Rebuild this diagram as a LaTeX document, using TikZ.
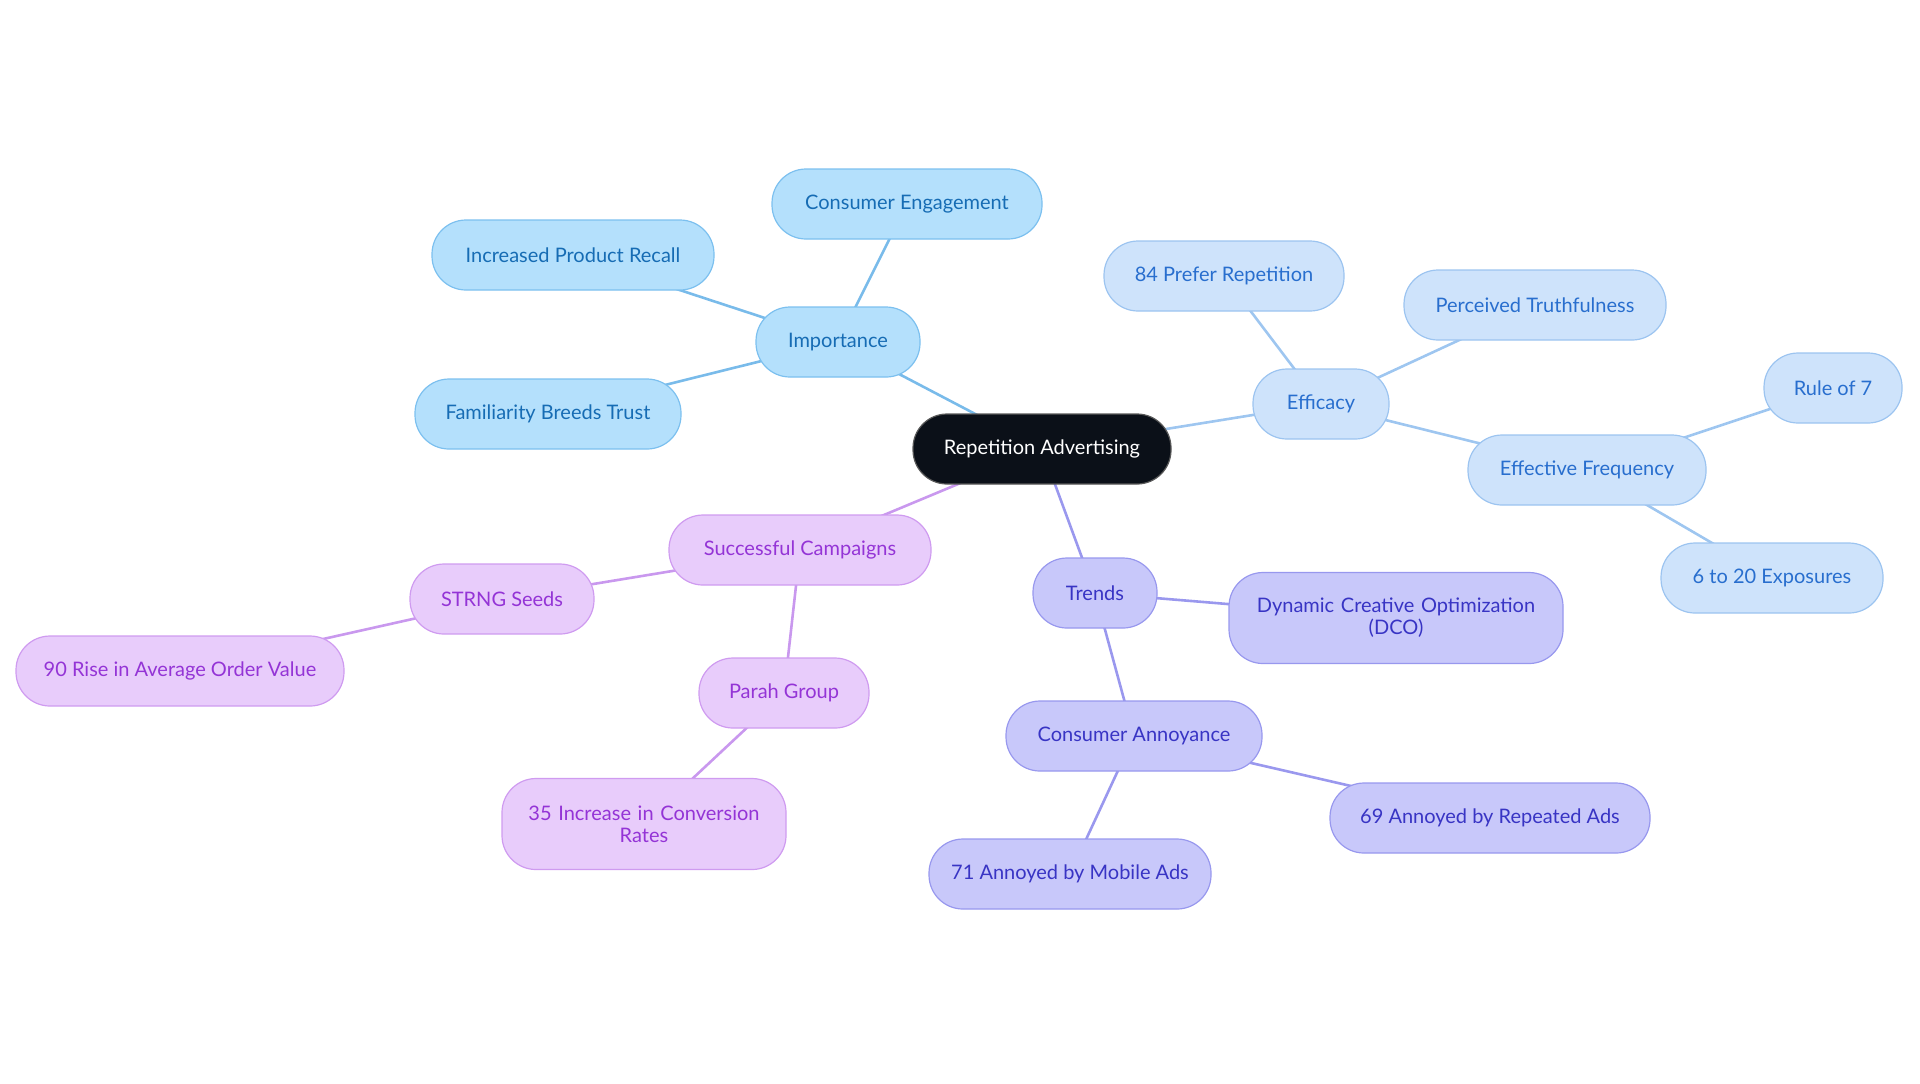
\documentclass[tikz,border=0pt]{standalone}
\usepackage{fontspec}
\setmainfont{Lato}
\usetikzlibrary{backgrounds}
\begin{document}
\begin{tikzpicture}[x=0.5pt,y=-0.5pt,
  base/.style={rounded corners=17pt, minimum height=35pt, line width=0.6pt, font=\fontsize{10}{11}\selectfont, inner sep=2pt, align=center},
  root/.style={base, draw=gray!70!black, text=white, fill={rgb,255:red,11;green,16;blue,24}},
  impn/.style={base, fill={rgb,255:red,180;green,224;blue,252}, draw={rgb,255:red,124;green,192;blue,239}, text={rgb,255:red,22;green,108;blue,180}},
  effn/.style={base, fill={rgb,255:red,206;green,227;blue,251}, draw={rgb,255:red,156;green,196;blue,240}, text={rgb,255:red,40;green,110;blue,206}},
  trdn/.style={base, fill={rgb,255:red,200;green,200;blue,250}, draw={rgb,255:red,152;green,152;blue,238}, text={rgb,255:red,56;green,52;blue,196}},
  sucn/.style={base, fill={rgb,255:red,232;green,204;blue,251}, draw={rgb,255:red,207;green,155;blue,240}, text={rgb,255:red,148;green,52;blue,214}},
  impl/.style={line width=1.3pt, draw={rgb,255:red,121;green,187;blue,234}},
  effl/.style={line width=1.3pt, draw={rgb,255:red,158;green,198;blue,240}},
  trdl/.style={line width=1.3pt, draw={rgb,255:red,154;green,152;blue,238}},
  sucl/.style={line width=1.3pt, draw={rgb,255:red,201;green,152;blue,238}}
]
\useasboundingbox (0,0) rectangle (1920,1083);
\node[root, minimum width=129pt] (root) at (1042,449) {Repetition Advertising};
% Importance
\node[impn, minimum width=82pt] (imp) at (838,342) {Importance};
\node[impn, minimum width=135pt] (ce) at (907,204) {Consumer Engagement};
\node[impn, minimum width=141pt] (ipr) at (573,255) {Increased Product Recall};
\node[impn, minimum width=133pt] (fbt) at (548,414) {Familiarity Breeds Trust};
% Efficacy
\node[effn, minimum width=68pt] (eff) at (1321,404) {Efficacy};
\node[effn, minimum width=120pt] (pr) at (1224,276) {84 Prefer Repetition};
\node[effn, minimum width=131pt] (pt) at (1535,305) {Perceived Truthfulness};
\node[effn, minimum width=119pt] (ef) at (1587,470) {Effective Frequency};
\node[effn, minimum width=69pt] (r7) at (1833,388) {Rule of 7};
\node[effn, minimum width=111pt] (ex) at (1772,578) {6 to 20 Exposures};
% Trends
\node[trdn, minimum width=62pt] (tr) at (1095,593) {Trends};
\node[trdn, minimum width=167pt, minimum height=45.5pt, text width=150pt] (dco) at (1396,618) {Dynamic Creative Optimization\\(DCO)};
\node[trdn, minimum width=128pt] (ca) at (1134,736) {Consumer Annoyance};
\node[trdn, minimum width=160pt] (ra) at (1490,818) {69 Annoyed by Repeated Ads};
\node[trdn, minimum width=141pt] (ma) at (1070,874) {71 Annoyed by Mobile Ads};
% Successful
\node[sucn, minimum width=131pt] (sc) at (800,550) {Successful Campaigns};
\node[sucn, minimum width=92pt] (ss) at (502,599) {STRNG Seeds};
\node[sucn, minimum width=164pt] (aov) at (180,671) {90 Rise in Average Order Value};
\node[sucn, minimum width=85pt] (pg) at (784,693) {Parah Group};
\node[sucn, minimum width=142pt, minimum height=45.5pt, text width=130pt] (cr) at (644,824) {35 Increase in Conversion\\Rates};
% edges
\begin{scope}[on background layer]
\draw[impl] (root.center) -- (imp.center);
\draw[impl] (imp.center) -- (ce.center);
\draw[impl] (imp.center) -- (ipr.center);
\draw[impl] (imp.center) -- (fbt.center);
\draw[effl] (root.center) -- (eff.center);
\draw[effl] (eff.center) -- (pr.center);
\draw[effl] (eff.center) -- (pt.center);
\draw[effl] (eff.center) -- (ef.center);
\draw[effl] (ef.center) -- (r7.center);
\draw[effl] (ef.center) -- (ex.center);
\draw[trdl] (root.center) -- (tr.center);
\draw[trdl] (tr.center) -- (dco.center);
\draw[trdl] (tr.center) -- (ca.center);
\draw[trdl] (ca.center) -- (ra.center);
\draw[trdl] (ca.center) -- (ma.center);
\draw[sucl] (root.center) -- (sc.center);
\draw[sucl] (sc.center) -- (ss.center);
\draw[sucl] (ss.center) -- (aov.center);
\draw[sucl] (sc.center) -- (pg.center);
\draw[sucl] (pg.center) -- (cr.center);
\end{scope}
\end{tikzpicture}
\end{document}
